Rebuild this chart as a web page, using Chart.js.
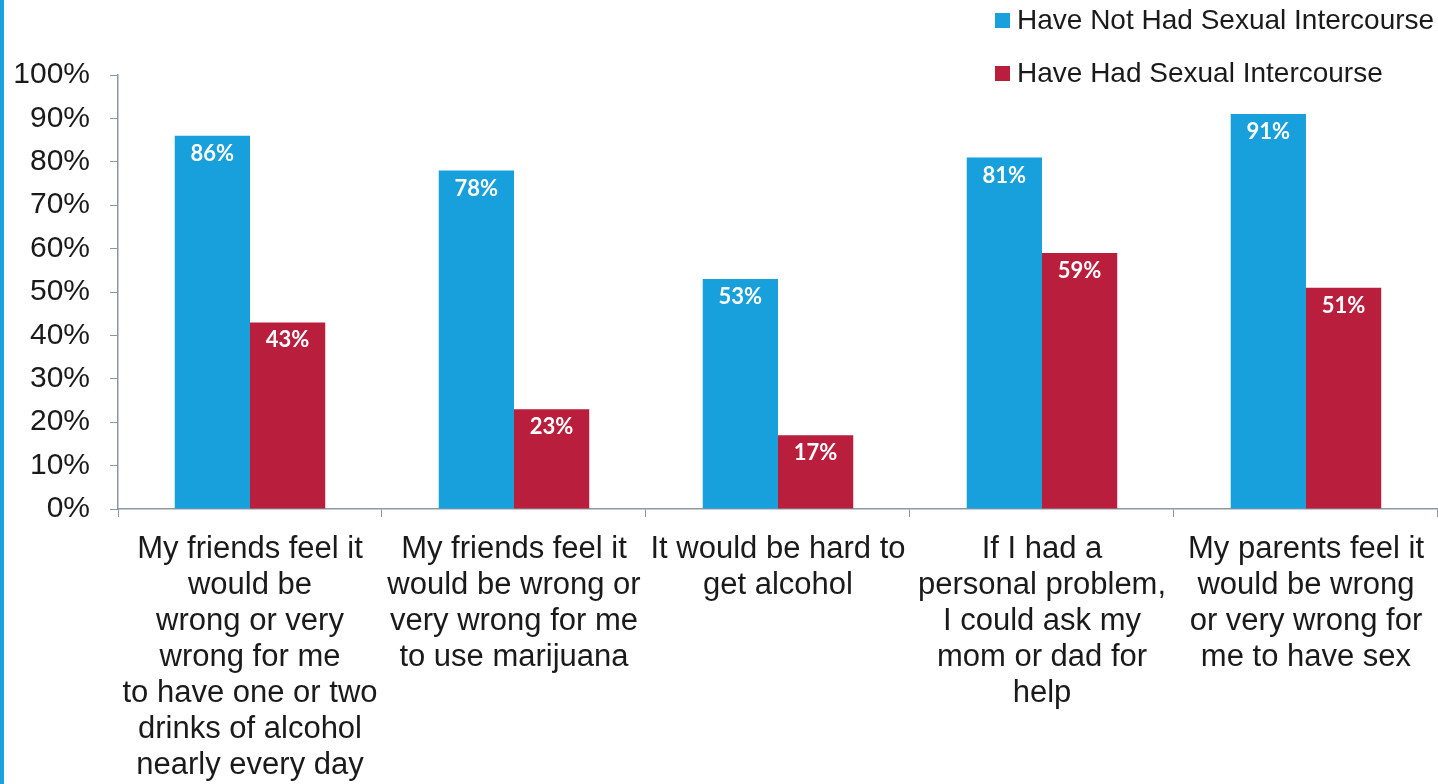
<!DOCTYPE html>
<html>
<head>
<meta charset="utf-8">
<script src="https://cdn.jsdelivr.net/npm/chart.js@4"></script>
<style>
  body { margin: 0; background: #fff; }
  #wrap { position: relative; width: 1438px; height: 784px; }
  #stripe { position: absolute; left: 0; top: 0; width: 4px; height: 784px; background: #1ba2de; }
  #legend { position: absolute; left: 995px; top: 0; font-family: "Liberation Sans", Arial, sans-serif; font-size: 28px; color: #1a1a1a; }
  .item { position: absolute; white-space: nowrap; height: 32px; line-height: 32px; }
  .box { display: inline-block; width: 15px; height: 15px; margin-right: 7px; vertical-align: 1px; }
</style>
</head>
<body>
<div id="wrap">
  <canvas id="myChart" width="1438" height="784"></canvas>
  <div id="stripe"></div>
  <div id="legend"></div>
</div>
<script>
const categories = [
    ['My friends feel it', 'would be', 'wrong or very', 'wrong for me', 'to have one or two', 'drinks of alcohol', 'nearly every day'],
    ['My friends feel it', 'would be wrong or', 'very wrong for me', 'to use marijuana'],
    ['It would be hard to', 'get alcohol'],
    ['If I had a', 'personal problem,', 'I could ask my', 'mom or dad for', 'help'],
    ['My parents feel it', 'would be wrong', 'or very wrong for', 'me to have sex']
];
const notHad = [86, 78, 53, 81, 91];
const had = [43, 23, 17, 59, 51];
const seriesNames = ['Have Not Had Sexual Intercourse', 'Have Had Sexual Intercourse'];
const blue = '#17a0db';
const red = '#b91e3d';
const axisColor = '#8e96a3';

// white percent labels just inside the top of each bar
const barLabels = {
    id: 'barLabels',
    afterDatasetsDraw(chart) {
        const ctx = chart.ctx;
        ctx.save();
        ctx.fillStyle = '#fff';
        ctx.font = 'bold 22px Lato, "Open Sans", sans-serif';
        ctx.textAlign = 'center';
        ctx.textBaseline = 'middle';
        chart.data.datasets.forEach((ds, i) => {
            chart.getDatasetMeta(i).data.forEach((bar, j) => {
                ctx.fillText(ds.data[j] + '%', bar.x, bar.y + 18);
            });
        });
        ctx.restore();
    }
};

const ctx = document.getElementById('myChart').getContext('2d');
const myChart = new Chart(ctx, {
    type: 'bar',
    data: {
        labels: categories,
        datasets: [
            { label: seriesNames[0], data: notHad, backgroundColor: blue },
            { label: seriesNames[1], data: had, backgroundColor: red }
        ]
    },
    options: {
        responsive: false,
        animation: false,
        layout: { padding: { top: 75, right: 0, bottom: 0, left: 0 } },
        categoryPercentage: 0.57,
        barPercentage: 1,
        plugins: {
            legend: { display: false },
            tooltip: { enabled: false }
        },
        scales: {
            x: {
                offset: true,
                afterFit(scale) { scale.height = 275; },
                grid: {
                    offset: true,
                    drawOnChartArea: false,
                    drawTicks: true,
                    tickLength: 8,
                    color: axisColor
                },
                border: { color: axisColor, width: 1.5 },
                ticks: {
                    autoSkip: false,
                    maxRotation: 0,
                    padding: 14,
                    color: '#1a1a1a',
                    font: { family: '"Liberation Sans", Arial, sans-serif', size: 31, lineHeight: 1.165 }
                }
            },
            y: {
                min: 0,
                max: 100,
                afterFit(scale) { scale.width = 118; },
                grid: {
                    drawOnChartArea: false,
                    drawTicks: true,
                    tickLength: 8,
                    color: axisColor
                },
                border: { color: axisColor, width: 1.5 },
                ticks: {
                    stepSize: 10,
                    padding: 20,
                    color: '#1a1a1a',
                    font: { family: '"Liberation Sans", Arial, sans-serif', size: 30 },
                    callback: (v) => v + '%'
                }
            }
        }
    },
    plugins: [barLabels]
});

const legend = document.getElementById('legend');
[blue, red].forEach((c, i) => {
    legend.innerHTML += `<div class="item" style="top:${4 + i * 53}px"><span class="box" style="background:${c}"></span>${seriesNames[i]}</div>`;
});
</script>
</body>
</html>
